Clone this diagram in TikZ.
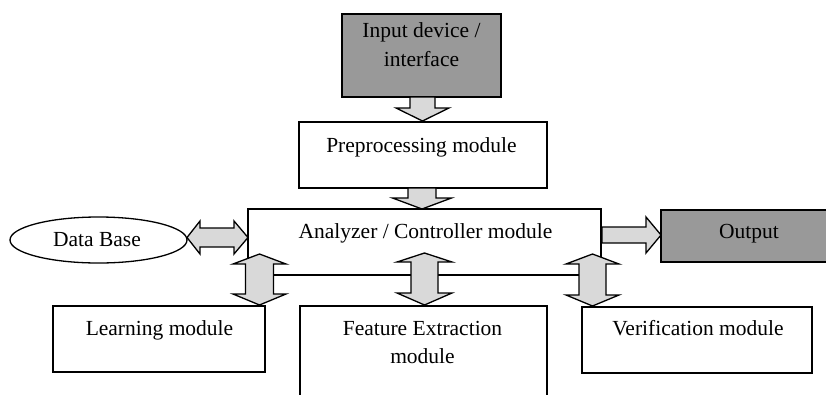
\documentclass[tikz,border=0pt]{standalone}
\usepackage{fontspec}
\setmainfont{Liberation Serif}
\usetikzlibrary{shapes.geometric}
\definecolor{boxgray}{HTML}{999999}
\definecolor{arrgray}{HTML}{D9D9D9}
% vertical single arrow pointing down: cx, tail y, head-base y, tip y, shaft half, head half
\newcommand\downblock[6]{%
  \draw[blk] (#1-#5,#2) -- (#1+#5,#2) -- (#1+#5,#3) -- (#1+#6,#3) -- (#1,#4)
    -- (#1-#6,#3) -- (#1-#5,#3) -- cycle;}
% vertical double arrow: cx, top tip, top base, bottom base, bottom tip, shaft half, head half
\newcommand\vdblock[7]{%
  \draw[blk] (#1,#2) -- (#1+#7,#3) -- (#1+#6,#3) -- (#1+#6,#4) -- (#1+#7,#4) -- (#1,#5)
    -- (#1-#7,#4) -- (#1-#6,#4) -- (#1-#6,#3) -- (#1-#7,#3) -- cycle;}
\begin{document}
\begin{tikzpicture}[x=1pt,y=-1pt,
  box/.style={draw=black, fill=white, inner sep=0pt, line width=1.3pt},
  gbox/.style={box, fill=boxgray},
  blk/.style={draw=black, fill=arrgray, line width=1.3pt, line join=miter},
  txt/.style={anchor=base, inner sep=0pt, font=\fontsize{21.5}{28}\selectfont}]
\useasboundingbox (0,0) rectangle (826,394);
\clip (0,0) rectangle (826,394);
\fill[white] (0,0) rectangle (826,394);

% boxes
\node[gbox, minimum width=159pt, minimum height=83pt] (inp) at (421.5,55.5) {};
\node[box, minimum width=248pt, minimum height=66pt] (pre) at (423,155) {};
\node[box, minimum width=353pt, minimum height=66pt] (ana) at (424.5,242) {};
\node[box, ellipse, minimum width=177pt, minimum height=46pt] (db) at (98.5,240) {};
\node[gbox, minimum width=180pt, minimum height=52pt] (out) at (751,236) {};
\node[box, minimum width=212pt, minimum height=66pt] (lrn) at (159,339) {};
\node[box, minimum width=247pt, minimum height=104pt] (fea) at (423.5,358) {};
\node[box, minimum width=230pt, minimum height=66pt] (ver) at (697,340) {};

% texts
\node[txt] (tinp1) at (421.5,37) {Input device /};
\node[txt] (tinp2) at (421.5,66) {interface};
\node[txt] (tpre) at (421.5,152) {Preprocessing module};
\node[txt] (tana) at (425.5,238) {Analyzer / Controller module};
\node[txt] (tdb) at (97,246) {Data Base};
\node[txt] (tout) at (749,238) {Output};
\node[txt] (tlrn) at (159.5,335) {Learning module};
\node[txt] (tfea1) at (422.5,335) {Feature Extraction};
\node[txt] (tfea2) at (422.5,363) {module};
\node[txt] (tver) at (698,335) {Verification module};

% block arrows
\downblock{422.5}{97}{108}{121}{12.5}{26.5}
\downblock{422}{188}{198}{209}{14}{29.5}
\vdblock{259.5}{254}{264}{294}{305}{14}{26.5}
\vdblock{424.5}{253}{262}{293}{305}{13.5}{27.5}
\vdblock{592.5}{254}{264}{295}{306}{13.5}{26.5}
% Data Base <-> Analyzer
\draw[blk] (187,237.5) -- (200,221) -- (200,228) -- (234,228) -- (234,221) -- (248,237.5)
  -- (234,254) -- (234,247) -- (200,247) -- (200,254) -- cycle;
% Analyzer -> Output
\draw[blk] (602,227) -- (646,227) -- (646,217) -- (661,235) -- (646,253) -- (646,243)
  -- (602,243) -- cycle;
\end{tikzpicture}
\end{document}
